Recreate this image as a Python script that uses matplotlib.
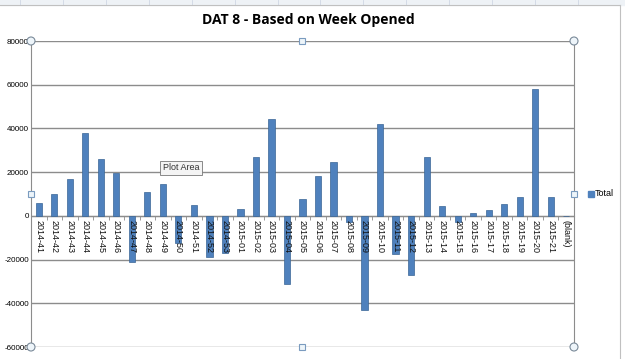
import matplotlib.pyplot as plt
import matplotlib.transforms as mtransforms
import numpy as np
from matplotlib.patches import Circle, Rectangle

weeks = [f"2014-{w}" for w in range(41, 54)] + [f"2015-{w:02d}" for w in range(1, 22)] + ["(blank)"]
totals = [5800, 9800, 17000, 38000, 26200, 19700, -21300, 11000, 14800, -12300,
          5000, -19000, -17000, 3200, 27000, 44400, -31000, 7800, 18300, 24800,
          -3000, -43200, 42000, -17500, -27000, 27000, 4300, -3000, 1100, 2500,
          5600, 8800, 58000, 8800, 0]
y_ticks = [80000, 60000, 40000, 20000, 0, -20000, -40000, -60000]

BLUE = "#4F81BD"
GRID = "#8C8C8C"


def main():
    plt.rcParams["font.family"] = ["Liberation Sans", "DejaVu Sans"]
    fig = plt.figure(figsize=(6.25, 3.59), dpi=100)
    ax = fig.add_axes([31 / 625, 12 / 359, 543 / 625, 306 / 359])

    x = np.arange(len(weeks))
    ax.bar(x, totals, width=0.4, color=BLUE, edgecolor="#3A6596", linewidth=0.5, zorder=3)

    ax.set_xlim(-0.5, len(weeks) - 0.5)
    ax.set_ylim(-60000, 80000)
    ax.set_yticks(y_ticks)
    ax.set_yticklabels([str(v) for v in y_ticks], fontsize=5.8)
    ax.yaxis.grid(True, color=GRID, linewidth=1, zorder=1)
    ax.tick_params(axis="y", length=0, pad=1.5)

    # category axis sits on zero, labels hang below it and over the bars
    ax.spines["bottom"].set_position(("data", 0))
    ax.spines["bottom"].set_color(GRID)
    ax.spines["top"].set_visible(False)
    ax.spines["left"].set_color(GRID)
    ax.spines["right"].set_color(GRID)
    ax.set_xticks(x)
    ax.set_xticklabels([])
    ax.set_xticks(x[:-1] + 0.5, minor=True)
    ax.tick_params(axis="x", which="major", length=0)
    ax.tick_params(axis="x", which="minor", length=3, color=GRID)
    below = mtransforms.offset_copy(ax.transData, fig=fig, y=-3, units="points")
    for xi, lab in zip(x, weeks):
        ax.text(xi, 0, lab, rotation=-90, fontsize=6.5, va="top", ha="center",
                color="#111111", transform=below, zorder=4)

    fig.text(0.494, 0.945, "DAT 8 - Based on Week Opened", ha="center", va="center",
             fontsize=10, fontweight="bold", family=["Open Sans", "DejaVu Sans"])

    # legend
    fig.patches.append(Rectangle((588 / 625, 1 - 197 / 359), 6 / 625, 6 / 359,
                                 transform=fig.transFigure, color=BLUE))
    fig.text(595 / 625, 1 - 194 / 359, "Total", fontsize=6.5, va="center")

    # spreadsheet strip and chart border
    fig.patches.append(Rectangle((0, 1 - 5 / 359), 1, 5 / 359, transform=fig.transFigure,
                                 color="#EEF2F6", zorder=0))
    for gx in [20, 63, 106, 149, 192, 235, 278, 320, 363, 406, 449, 492, 535, 578]:
        fig.lines.append(plt.Line2D([gx / 625] * 2, [1 - 5 / 359, 1], transform=fig.transFigure,
                                    color="#D0D7E5", linewidth=0.6))
    fig.lines.append(plt.Line2D([0, 620 / 625], [1 - 5 / 359] * 2, transform=fig.transFigure,
                                color="#C0C0C0", linewidth=0.8))
    fig.lines.append(plt.Line2D([620 / 625] * 2, [0, 1 - 5 / 359], transform=fig.transFigure,
                                color="#C0C0C0", linewidth=0.8))

    # plot-area selection handles
    for hx, hy in [(31, 41), (574, 41), (31, 347), (574, 347)]:
        fig.patches.append(Circle((hx, 359 - hy), 4, transform=None, facecolor="#EEF5FA",
                                  edgecolor="#7A8A99", linewidth=0.8, zorder=5))
    for hx, hy in [(302, 41), (302, 347), (31, 194), (574, 194)]:
        fig.patches.append(Rectangle((hx - 3, 359 - hy - 3), 6, 6, transform=None,
                                     facecolor="#EEF5FA", edgecolor="#7A9BBF", linewidth=0.8, zorder=5))

    # "Plot Area" tooltip
    fig.text(181 / 625, 1 - 168 / 359, "Plot Area", fontsize=6.5, ha="center", va="center",
             color="#333333", zorder=6,
             bbox=dict(boxstyle="square,pad=0.3", facecolor="#F4F4F4", edgecolor="#777777", linewidth=0.6))

    fig.savefig("out.png", dpi=100)


if __name__ == "__main__":
    main()
